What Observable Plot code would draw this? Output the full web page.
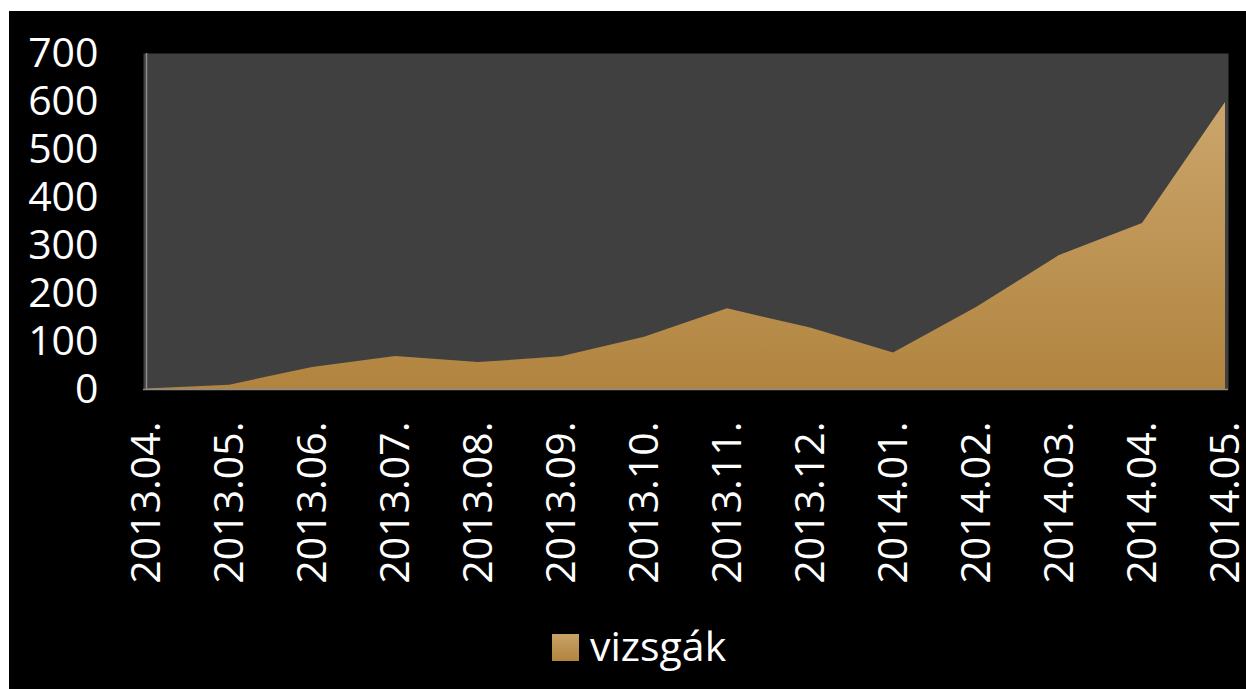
<!DOCTYPE html>
<html>
<head>
<meta charset="utf-8">
<script src="https://cdn.jsdelivr.net/npm/d3@7"></script>
<script src="https://cdn.jsdelivr.net/npm/@observablehq/plot@0.6"></script>
<style>
  html, body { margin: 0; padding: 0; background: #ffffff; width: 1246px; height: 689px; overflow: hidden; }
  #wrap { position: absolute; left: 9px; top: 11px; width: 1237px; height: 678px; background: #000000; font-family: "Open Sans", sans-serif; }
  #chart svg { display: block; }
  #legend { position: absolute; left: 543px; top: 606px; display: flex; align-items: center; color: #ffffff; font-size: 41px; font-family: "Open Sans", sans-serif; }
  #legend .sw { width: 27px; height: 27px; background: linear-gradient(#c9a268, #b1843f); margin-right: 11px; margin-top: 4px; }
</style>
</head>
<body>
<div id="wrap">
  <div id="chart"></div>
  <div id="legend"><span class="sw"></span><span id="legendLabel"></span></div>
</div>
<script>
const months = ["2013.04.", "2013.05.", "2013.06.", "2013.07.", "2013.08.", "2013.09.", "2013.10.", "2013.11.", "2013.12.", "2014.01.", "2014.02.", "2014.03.", "2014.04.", "2014.05."];
const vizsgak = [1, 9, 46, 69, 56, 68, 109, 168, 128, 76, 171, 279, 346, 598];
const yTicks = [0, 100, 200, 300, 400, 500, 600, 700];
const seriesName = "vizsgák";

const data = months.map((m, i) => ({month: m, value: vizsgak[i]}));

const plot = Plot.plot({
  width: 1237,
  height: 600,
  marginLeft: 134,
  marginRight: 18,
  marginTop: 42,
  marginBottom: 222,
  style: {background: "transparent", color: "#ffffff", fontFamily: "Open Sans, sans-serif", fontSize: "41px", overflow: "visible"},
  x: {type: "point", domain: months, padding: 0},
  y: {domain: [0, 700]},
  marks: [
    Plot.frame({fill: "#404040", stroke: "none"}),
    Plot.areaY(data, {x: "month", y: "value", fill: "url(#areaGrad)"}),
    Plot.ruleY([0], {stroke: "#8c8c8c", strokeWidth: 1.5}),
    Plot.ruleX([months[0]], {stroke: "#8c8c8c", strokeWidth: 1.5}),
    Plot.axisY(yTicks, {tickSize: 0, tickPadding: 45, fill: "#ffffff", fontSize: 41, label: null}),
    Plot.axisX(months, {tickSize: 0, tickPadding: 32, tickRotate: -90, fill: "#ffffff", fontSize: 41, label: null})
  ]
});

const svg = d3.select(plot);
const defs = svg.insert("defs", ":first-child");
const grad = defs.append("linearGradient").attr("id", "areaGrad").attr("x1", 0).attr("y1", 0).attr("x2", 0).attr("y2", 1);
grad.append("stop").attr("offset", "0%").attr("stop-color", "#cba56c");
grad.append("stop").attr("offset", "100%").attr("stop-color", "#b1843f");

document.getElementById("chart").appendChild(plot);
document.getElementById("legendLabel").textContent = seriesName;
</script>
</body>
</html>
